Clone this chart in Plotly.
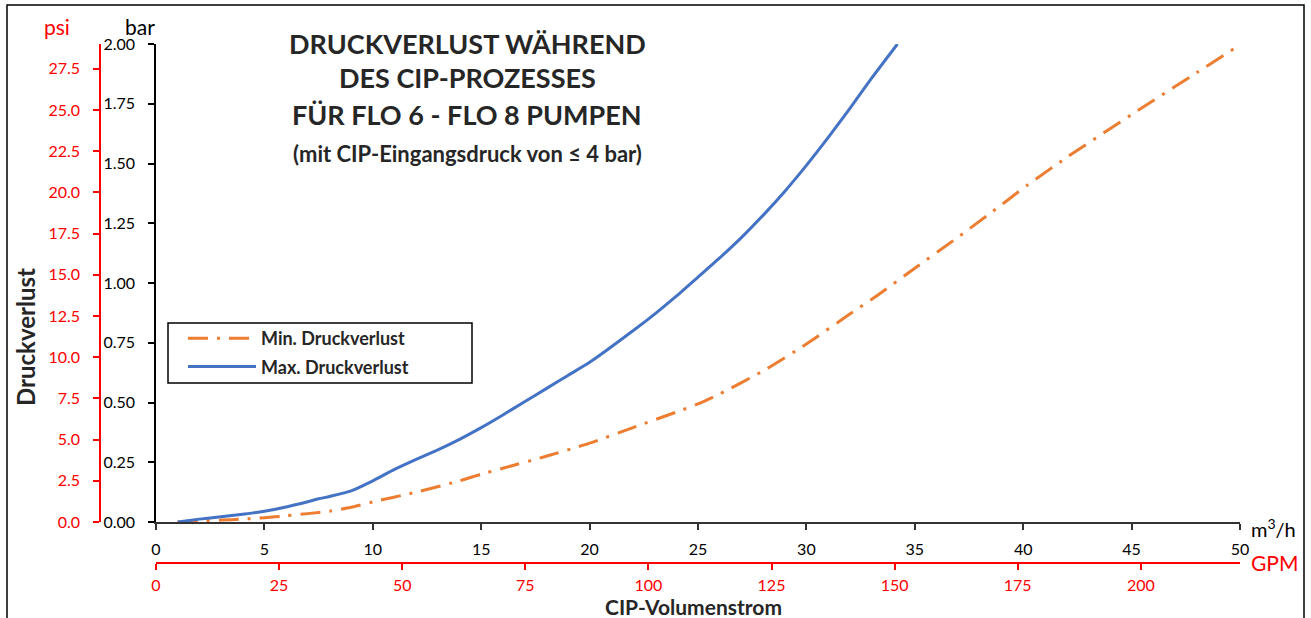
import plotly.graph_objects as go

# ---------------- data ----------------
max_flow = [1, 2, 3, 4, 5, 6, 7, 7.5, 8, 9, 10, 11, 12, 13, 14, 15, 16, 17, 18, 19, 20,
            22, 23, 24, 25, 26, 27, 28, 29, 30, 31, 32, 33, 34.2]
max_loss = [0.0, 0.012, 0.022, 0.032, 0.045, 0.063, 0.085, 0.097, 0.107, 0.130, 0.172,
            0.220, 0.262, 0.302, 0.346, 0.395, 0.448, 0.503, 0.558, 0.613, 0.668,
            0.800, 0.870, 0.945, 1.025, 1.105, 1.190, 1.283, 1.383, 1.492, 1.608,
            1.730, 1.856, 2.0]

min_flow = [1, 2, 3, 4, 5, 6, 7, 8, 9, 10, 12, 14, 15, 16, 18, 20, 22, 24, 25, 26,
            28, 30, 32, 33.3, 35, 36.8, 38.5, 40.2, 42, 45, 48, 49.8]
min_loss = [0.0, 0.004, 0.008, 0.012, 0.018, 0.026, 0.035, 0.045, 0.062, 0.084, 0.125,
            0.172, 0.200, 0.225, 0.275, 0.330, 0.395, 0.460, 0.494, 0.536,
            0.632, 0.745, 0.870, 0.950, 1.062, 1.179, 1.293, 1.410, 1.525, 1.705,
            1.880, 1.985]

bar_ticks = [0, 0.25, 0.5, 0.75, 1.0, 1.25, 1.5, 1.75, 2.0]
psi_ticks = [0, 2.5, 5, 7.5, 10, 12.5, 15, 17.5, 20, 22.5, 25, 27.5]
flow_ticks = [0, 5, 10, 15, 20, 25, 30, 35, 40, 45, 50]
gpm_ticks = [0, 25, 50, 75, 100, 125, 150, 175, 200]

BAR_TO_PSI = 14.5038
M3H_TO_GPM = 4.402868

title_lines = ["DRUCKVERLUST WÄHREND", "DES CIP-PROZESSES", "FÜR FLO 6 - FLO 8 PUMPEN"]
subtitle = "(mit CIP-Eingangsdruck von ≤ 4 bar)"

# ---------------- layout helpers ----------------
W, H = 1311, 618
def px(x):
    return x / W
def py(y):
    return 1 - y / H

FONT = "Lato"
RED = "#FF0000"
BLUE = "#4472C4"
ORANGE = "#ED7D31"
TXT = "#262626"

fig = go.Figure()
fig.add_trace(go.Scatter(x=min_flow, y=min_loss, mode="lines", name="Min. Druckverlust",
                         legendgroup="a",
                         line=dict(color=ORANGE, width=3, dash="20px,9px,3px,9px",
                                   shape="spline", smoothing=0.6)))
fig.add_trace(go.Scatter(x=max_flow, y=max_loss, mode="lines", name="Max. Druckverlust",
                         legendgroup="b",
                         line=dict(color=BLUE, width=3, shape="spline", smoothing=0.5)))
# invisible traces to activate secondary axes
fig.add_trace(go.Scatter(x=[0, 50 * M3H_TO_GPM], y=[None, None], xaxis="x2", yaxis="y",
                         showlegend=False, hoverinfo="skip"))
fig.add_trace(go.Scatter(x=[None], y=[0, 2 * BAR_TO_PSI], xaxis="x", yaxis="y2",
                         showlegend=False, hoverinfo="skip", mode="markers",
                         marker=dict(opacity=0)))

xdom = [px(156), px(1240)]
ydom = [py(522), py(44)]

fig.update_layout(
    width=W, height=H,
    margin=dict(l=0, r=0, t=0, b=0),
    paper_bgcolor="white", plot_bgcolor="white",
    font=dict(family=FONT, size=16, color="black"),
    showlegend=True,
    xaxis=dict(domain=xdom, range=[0, 50], tickvals=flow_ticks,
               showline=True, linecolor="#333333", linewidth=2,
               ticks="outside", ticklen=6, tickwidth=1.5, tickcolor="#333333",
               showgrid=False, zeroline=False, anchor="y",
               tickfont=dict(size=16, color="black"), ticklabelstandoff=6,
               automargin=False),
    xaxis2=dict(domain=xdom, range=[0, 50 * M3H_TO_GPM], tickvals=gpm_ticks,
                overlaying="x", anchor="free", position=py(563), side="bottom",
                showline=True, linecolor=RED, linewidth=1.5,
                ticks="outside", ticklen=6, tickwidth=1.5, tickcolor=RED,
                showgrid=False, zeroline=False,
                tickfont=dict(size=16, color=RED), ticklabelstandoff=2,
                automargin=False),
    yaxis=dict(domain=ydom, range=[0, 2], tickvals=bar_ticks, tickformat=".2f",
               showline=True, linecolor="black", linewidth=1.5,
               ticks="outside", ticklen=6, tickwidth=1.5, tickcolor="black",
               showgrid=False, zeroline=False, anchor="x",
               tickfont=dict(size=16, color="black"), ticklabelstandoff=10,
               automargin=False),
    yaxis2=dict(domain=ydom, range=[0, 2 * BAR_TO_PSI], tickvals=psi_ticks, tickformat=".1f",
                overlaying="y", anchor="free", position=px(100), side="left",
                showline=True, linecolor=RED, linewidth=1.5,
                ticks="outside", ticklen=6, tickwidth=1.5, tickcolor=RED,
                showgrid=False, zeroline=False,
                tickfont=dict(size=16, color=RED), ticklabelstandoff=10,
                automargin=False),
    legend=dict(x=px(183), y=py(320), xanchor="left", yanchor="top",
                bgcolor="rgba(0,0,0,0)", borderwidth=0,
                font=dict(family=FONT, size=18, color=TXT, weight="bold"),
                itemwidth=68, tracegroupgap=2),
)

ann = []
title_y = [43, 78, 114]
for t, yy in zip(title_lines, title_y):
    ann.append(dict(text="<b>%s</b>" % t, x=px(467), y=py(yy), xref="paper", yref="paper",
                    xanchor="center", yanchor="middle", showarrow=False,
                    font=dict(family=FONT, size=27, color=TXT)))
ann.append(dict(text="<b>%s</b>" % subtitle, x=px(467), y=py(153), xref="paper", yref="paper",
                xanchor="center", yanchor="middle", showarrow=False,
                font=dict(family=FONT, size=22, color=TXT)))
ann.append(dict(text="psi", x=px(57), y=py(27), xref="paper", yref="paper",
                xanchor="center", yanchor="middle", showarrow=False,
                font=dict(family=FONT, size=21, color=RED)))
ann.append(dict(text="bar", x=px(140), y=py(27), xref="paper", yref="paper",
                xanchor="center", yanchor="middle", showarrow=False,
                font=dict(family=FONT, size=21, color="black")))
ann.append(dict(text="<b>Druckverlust</b>", x=px(25), y=py(337), xref="paper", yref="paper",
                xanchor="center", yanchor="middle", showarrow=False, textangle=-90,
                font=dict(family=FONT, size=24, color=TXT)))
ann.append(dict(text="<b>CIP-Volumenstrom</b>", x=px(693), y=py(606), xref="paper", yref="paper",
                xanchor="center", yanchor="middle", showarrow=False,
                font=dict(family=FONT, size=21, color=TXT)))
ann.append(dict(text="m<sup>3</sup>/h", x=px(1249), y=py(528), xref="paper", yref="paper",
                xanchor="left", yanchor="middle", showarrow=False,
                font=dict(family=FONT, size=20, color="black")))
ann.append(dict(text="GPM", x=px(1249), y=py(562), xref="paper", yref="paper",
                xanchor="left", yanchor="middle", showarrow=False,
                font=dict(family=FONT, size=21, color=RED)))
fig.update_layout(annotations=ann)

# outer frame
fig.add_shape(type="rect", xref="paper", yref="paper",
              x0=px(7), x1=px(1304), y0=-0.02, y1=py(5),
              line=dict(color="black", width=1.5), fillcolor="rgba(0,0,0,0)", layer="below")
# legend box
fig.add_shape(type="rect", xref="paper", yref="paper",
              x0=px(168), x1=px(472), y0=py(383), y1=py(323),
              line=dict(color="black", width=1.5), fillcolor="white", layer="below")

fig.write_html("out.html", config={"displayModeBar": False},
               post_script="document.body.style.margin='0';document.body.style.overflow='hidden';")
